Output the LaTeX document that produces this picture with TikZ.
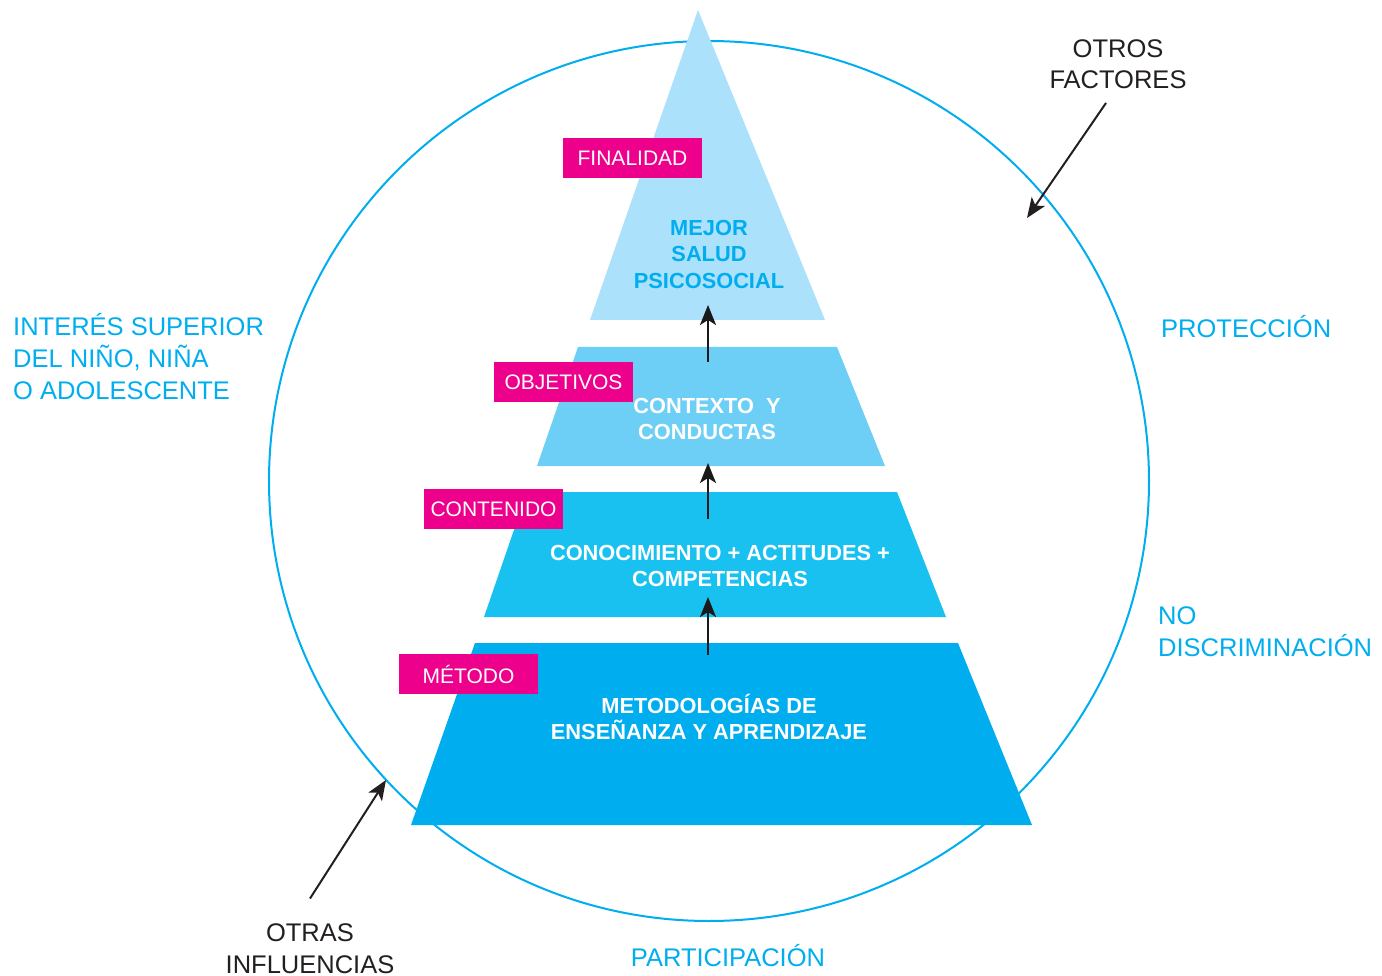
\documentclass[tikz,border=0pt]{standalone}
\usepackage{fontspec}
\setmainfont{Liberation Sans}
\usetikzlibrary{arrows.meta}
\definecolor{ringblue}{HTML}{00AEEF}
\definecolor{tierA}{HTML}{ABE1FA}
\definecolor{tierB}{HTML}{6DCFF6}
\definecolor{tierC}{HTML}{19C1F1}
\definecolor{tierD}{HTML}{00AEEF}
\definecolor{tagpink}{HTML}{EC008C}
\definecolor{darkgrey}{HTML}{231F20}
\tikzset{
  tag/.style={fill=tagpink,text=white,inner sep=0pt,minimum width=139pt,minimum height=40pt,font=\fontsize{21}{24}\selectfont},
  principle/.style={text=ringblue,inner sep=0pt,align=left,font=\fontsize{25.5}{32}\selectfont},
  factor/.style={text=darkgrey,inner sep=0pt,align=center,font=\fontsize{25.5}{31.5}\selectfont},
  tiertext/.style={inner sep=0pt,align=center,font=\bfseries\fontsize{21.8}{26.5}\selectfont},
  upward/.style={draw=black!90,line width=2pt,-{Stealth[length=20pt,width=16pt,inset=5pt]}},
  pointer/.style={draw=darkgrey,line width=2pt,-{Stealth[length=20pt,width=16pt,inset=5pt]}}
}
\begin{document}
\begin{tikzpicture}[x=1pt,y=-1pt]
\useasboundingbox (0,0) rectangle (1382,976);
% ring of principles
\draw [ringblue,line width=2pt] (709,481) circle (440);
% pyramid, top to bottom
\fill [tierA] (698,10) -- (825,320) -- (590,320) -- cycle;
\fill [tierB] (578,347) -- (837,347) -- (885,466) -- (537,466) -- cycle;
\fill [tierC] (527,492) -- (897,492) -- (946,617) -- (484,617) -- cycle;
\fill [tierD] (475,643) -- (958,643) -- (1032,825) -- (411,825) -- cycle;
% texts of the tiers
\node [tiertext,text=ringblue] (salud) at (709,254) {MEJOR\\SALUD\\PSICOSOCIAL};
\node [tiertext,text=white] (contexto) at (707,419) {CONTEXTO\ \ Y\\CONDUCTAS};
\node [tiertext,text=white] (conoc) at (720,566) {CONOCIMIENTO + ACTITUDES +\\COMPETENCIAS};
\node [tiertext,text=white] (metod) at (709,717) {METODOLOG\'IAS DE\\ENSE\~NANZA Y APRENDIZAJE};
% tags
\node [tag] (tagFin) at (632.5,158) {FINALIDAD};
\node [tag] (tagObj) at (563.5,382) {OBJETIVOS};
\node [tag] (tagCont) at (493.5,509) {CONTENIDO};
\node [tag] (tagMet) at (468.5,674) {M\'ETODO};
% arrows between tiers
\coordinate (upA0) at (708,362); \coordinate (upA1) at (708,305);
\coordinate (upB0) at (708,519); \coordinate (upB1) at (708,463);
\coordinate (upC0) at (708,655); \coordinate (upC1) at (708,597);
\draw [upward] (upA0) -- (upA1);
\draw [upward] (upB0) -- (upB1);
\draw [upward] (upC0) -- (upC1);
% principles round the ring
\node [principle,anchor=west] (interes) at (13,357) {INTER\'ES SUPERIOR\\DEL NI\~NO, NI\~NA\\O ADOLESCENTE};
\node [principle,anchor=west] (protec) at (1161,327) {PROTECCI\'ON};
\node [principle,anchor=west] (nodisc) at (1158,631.5) {NO\\DISCRIMINACI\'ON};
\node [principle,anchor=center] (partic) at (728,956) {PARTICIPACI\'ON};
% outside factors
\node [factor] (otros) at (1118,64) {OTROS\\FACTORES};
\node [factor] (otras) at (310,948.5) {OTRAS\\INFLUENCIAS};
\coordinate (otrosEnd) at (1027,218);
\coordinate (otrasEnd) at (386,780);
\draw [pointer] ([xshift=-12pt,yshift=-14pt]otros.south) -- (otrosEnd);
\draw [pointer] ([yshift=25pt]otras.north) -- (otrasEnd);
\end{tikzpicture}
\end{document}
